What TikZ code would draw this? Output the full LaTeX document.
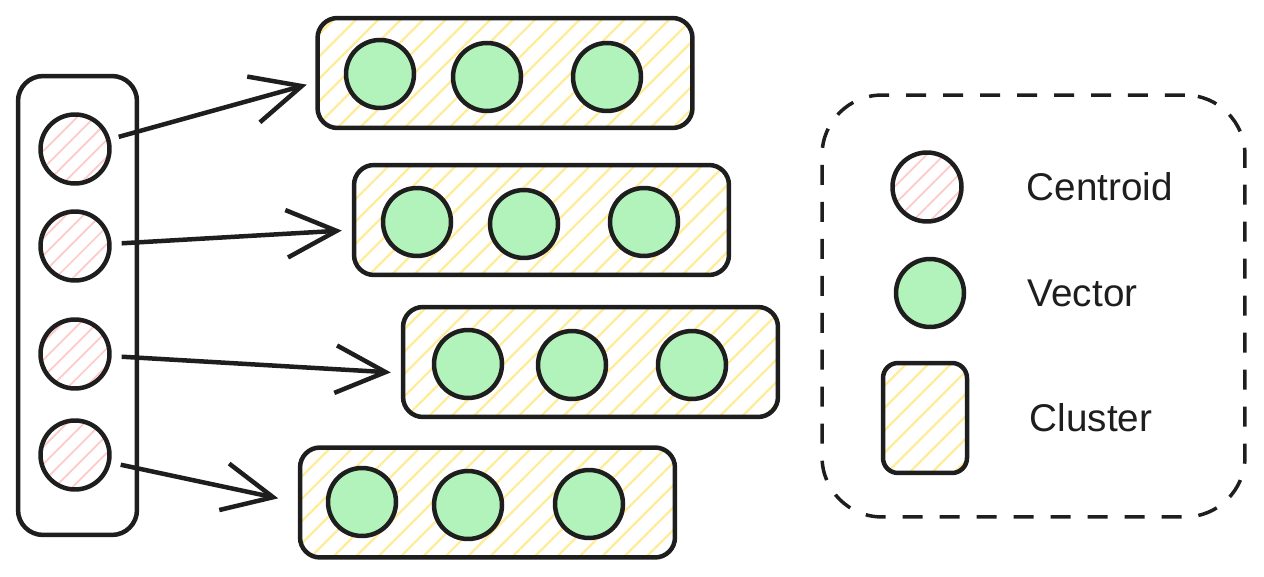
\documentclass[tikz,border=0pt]{standalone}
\usepackage{fontspec}
\setmainfont{Liberation Sans}
\usetikzlibrary{positioning,arrows.meta,patterns.meta}
\definecolor{ink}{HTML}{1E1E1E}
\definecolor{vecgreen}{HTML}{B2F2BB}
\definecolor{hatchpink}{HTML}{FFC9C9}
\definecolor{hatchyellow}{HTML}{FFEC99}
\begin{document}
\begin{tikzpicture}[x=0.02cm, y=-0.02cm, line width=0.09cm, color=ink,
  centroid/.style={draw, circle, minimum size=1.38cm, pattern={Lines[angle=45,distance=7pt,line width=1pt]}, pattern color=hatchpink},
  vector/.style={draw, circle, minimum size=1.36cm, fill=vecgreen},
  cluster/.style={draw, rounded corners=0.4cm, minimum width=7.5cm, minimum height=2.2cm, pattern={Lines[angle=45,distance=9pt,line width=1.3pt]}, pattern color=hatchyellow},
  arr/.style={-{Straight Barb[length=1cm,width=0.95cm]}, shorten <=0.2cm, shorten >=0.2cm},
  legtext/.style={font=\fontsize{22}{26}\selectfont}]
\useasboundingbox (0,0) rectangle (1264,577);
% centroids column
\node[draw, rounded corners=0.5cm, minimum width=2.38cm, minimum height=9.18cm] (col) at (77.5,305.5) {};
\foreach \i/\y in {1/149,2/246,3/354,4/455}
  \node[centroid] (c\i) at (75,\y) {};
% clusters
\node[cluster] (k1) at (505,73) {};
\node[cluster] (k2) at (541.5,220) {};
\node[cluster] (k3) at (590.5,362) {};
\node[cluster] (k4) at (487.5,502.5) {};
\foreach \n/\x/\y in {v11/380/74, v12/487/77, v13/607/77,
                      v21/417/222, v22/524/224, v23/644/222,
                      v31/468/364, v32/572/365, v33/692/365,
                      v41/362/502, v42/468/505, v43/589/504}
  \node[vector] (\n) at (\x,\y) {};
\draw[arr] (c1) -- ([yshift=-0.18cm]k1.west);
\draw[arr] (c2) -- ([yshift=-0.2cm]k2.west);
\draw[arr] (c3) -- ([yshift=-0.22cm]k3.west);
\draw[arr, shorten >=0.4cm] (c4) -- (k4.west);
% legend
\node[draw, dash pattern=on 0.4cm off 0.34cm, line width=0.07cm, rounded corners=1.2cm,
  minimum width=8.46cm, minimum height=8.44cm] (legend) at (1033.5,306) {};
\node[centroid] (l1) at (927,187) {};
\node[vector] (l2) at (930,293) {};
\node[cluster, rounded corners=0.3cm, minimum width=1.68cm] (l3) at (925,418) {};
\node[legtext, right=1.1cm of l1] (t1) {Centroid};
\node[legtext, right=1.07cm of l2] (t2) {Vector};
\node[legtext, right=1.05cm of l3] (t3) {Cluster};
\end{tikzpicture}
\end{document}
